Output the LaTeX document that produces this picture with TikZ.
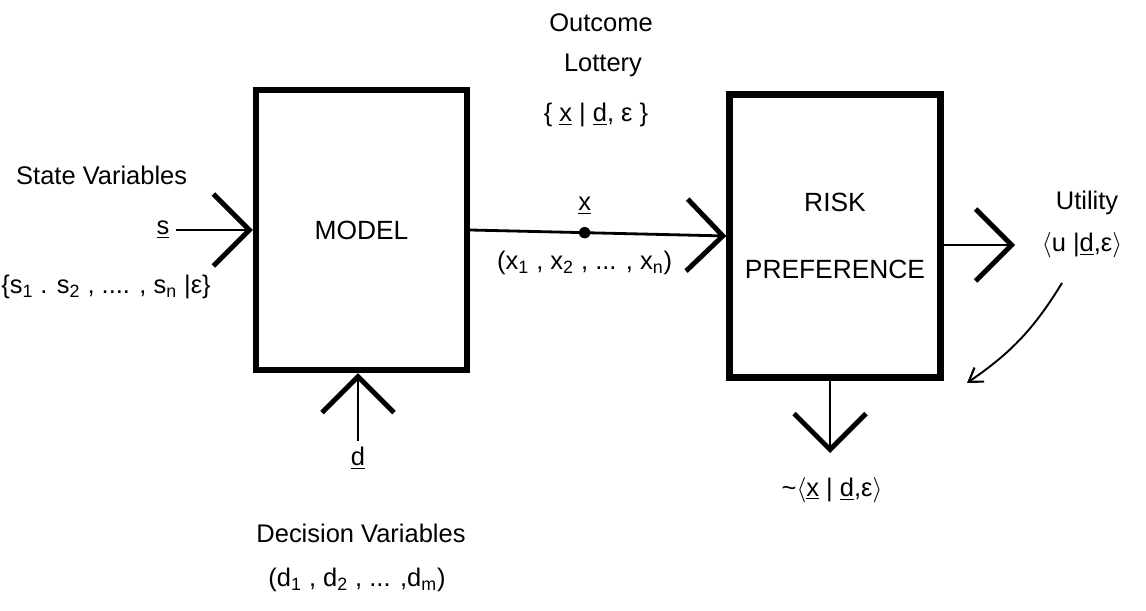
\documentclass[tikz,border=0pt]{standalone}
\usepackage{fontspec}
\setmainfont{Liberation Sans}
\usepackage{tikz}
\usetikzlibrary{arrows.meta,positioning}

\begin{document}
\begin{tikzpicture}[font=\fontsize{14.5}{17}\selectfont]
  \tikzset{block/.style={draw, line width=3.6pt, minimum width=4.22cm, minimum height=5.6cm, align=center, font=\fontsize{15}{18}\selectfont},
    inflow/.style={line width=1.6pt, -{Straight Barb[length=0.72cm, width=1.44cm, line width=2.8pt]}},
    feedback/.style={line width=1.1pt, -{Straight Barb[length=0.26cm, width=0.34cm, line width=1.2pt]}}}
  \useasboundingbox (0,0) rectangle (22.92,-12.22);
  % the two boxes
  \node[block] (model) at (7.23,-4.6) {MODEL};
  \node[block, minimum height=5.66cm] (risk) at (16.7,-4.72) {RISK\\[0.72cm]PREFERENCE};
  % inputs
  \node[anchor=west] (state) at (0.2,-3.5) {State Variables};
  \node (s) at (3.26,-4.6) {\underline{s}};
  \node (slist) at (2.12,-5.74) {\{s\textsubscript{1} . s\textsubscript{2} , .... , s\textsubscript{n} |ε\}};
  \node (dvec) at (7.16,-9.16) {\underline{d}};
  \node (decision) at (7.22,-10.66) {Decision Variables};
  \node (dlist) at (7.14,-11.6) {(d\textsubscript{1} , d\textsubscript{2} , ... ,d\textsubscript{m})};
  % lottery
  \node (outcome) at (12.02,-0.46) {Outcome};
  \node (lottery) at (12.06,-1.3) {Lottery};
  \node (lotset) at (11.92,-2.3) {\{ \underline{x} | \underline{d}, ε \}};
  % outputs
  \node (utility) at (21.74,-4.06) {Utility};
  \node (uexp) at (21.64,-4.9) {$\langle$u |\underline{d},ε$\rangle$};
  \node (xexp) at (16.64,-9.8) {\textasciitilde$\langle$\underline{x} | \underline{d},ε$\rangle$};
  \coordinate (uend) at (20.3,-4.9);
  \coordinate (xend) at (16.6,-9.06);
  \coordinate (fbstart) at (21.24,-5.66);
  \coordinate (fbend) at (19.34,-7.66);

  \draw[inflow] (s) -- (s -| model.west);
  \draw[inflow] (dvec) -- (dvec |- model.south);
  \draw[inflow] (model.east) -- node[pos=0.447, circle, fill, inner sep=2.3pt] (dot) {} (risk.west);
  \node[above=0.1cm of dot] (xvec) {\underline{x}};
  \node[below=0.1cm of dot] (xlist) {(x\textsubscript{1} , x\textsubscript{2} , ... , x\textsubscript{n})};
  \draw[inflow] (risk.east |- uend) -- (uend);
  \draw[inflow] (risk.south -| xend) -- (xend);
  \draw[feedback] (fbstart) to[bend left=12] (fbend);
\end{tikzpicture}
\end{document}
